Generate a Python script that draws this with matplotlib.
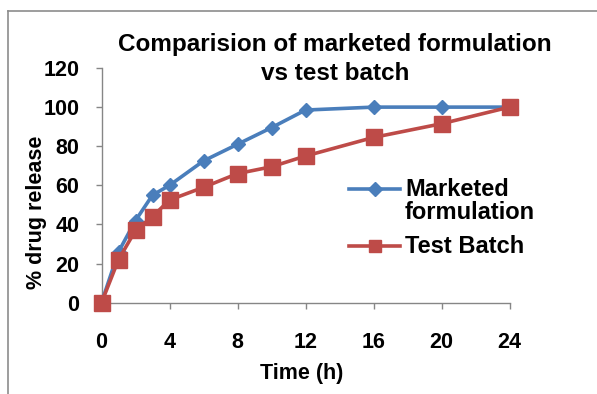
import matplotlib
matplotlib.use("Agg")
import matplotlib.pyplot as plt
from matplotlib.lines import Line2D

plt.rcParams['font.family'] = ['Liberation Sans', 'DejaVu Sans']
plt.rcParams['font.weight'] = 'bold'

# Dissolution data (% cumulative drug release vs time in hours)
time_h = [0, 1, 2, 3, 4, 6, 8, 10, 12, 16, 20, 24]
marketed = [0, 26, 42, 55, 60, 72.5, 81, 89.5, 98.5, 100, 100, 100]
test_batch = [0, 22, 37, 44, 52.5, 59, 66, 69.5, 75, 84.5, 91.5, 100]

x_ticks = [0, 4, 8, 12, 16, 20, 24]
y_ticks = [0, 20, 40, 60, 80, 100, 120]

title = "Comparision of marketed formulation\nvs test batch"
series_labels = ["Marketed\nformulation", "Test Batch"]

W, H = 597, 394
fig = plt.figure(figsize=(W / 100, H / 100), dpi=100)
fig.patch.set_facecolor("white")

def fx(px):
    return px / W

def fy(py):
    return 1 - py / H

# Chart-area border (top and left edges)
fig.add_artist(Line2D([fx(8), fx(597)], [fy(10.5), fy(10.5)], color="#8c8c8c", lw=1.2))
fig.add_artist(Line2D([fx(8), fx(8)], [fy(10.5), fy(394)], color="#8c8c8c", lw=1.2))

ax = fig.add_axes([fx(101.5), fy(302.7), fx(509.5) - fx(101.5), fy(68) - fy(302.7)])

blue = "#4a7ebb"
red = "#be4b48"
blue_style = dict(color=blue, lw=2.6, marker="D", markersize=7.5, markeredgecolor=blue)
red_style = dict(color=red, lw=2.6, marker="s", markersize=12, markeredgecolor=red)

ax.plot(time_h, marketed, clip_on=False, zorder=3, **blue_style)
ax.plot(time_h, test_batch, clip_on=False, zorder=4, **red_style)

ax.set_xlim(0, 24)
ax.set_ylim(0, 120)
ax.set_xticks(x_ticks)
ax.set_yticks(y_ticks)

for side in ("top", "right"):
    ax.spines[side].set_visible(False)
for side in ("left", "bottom"):
    ax.spines[side].set_color("#868686")
    ax.spines[side].set_linewidth(1.0)

ax.tick_params(axis="both", colors="#868686", length=4, width=1.0, direction="out",
               labelcolor="black", labelsize=15.5)
ax.tick_params(axis="x", pad=17)
ax.tick_params(axis="y", pad=12)
for lab in ax.get_xticklabels() + ax.get_yticklabels():
    lab.set_fontweight("bold")

# Title and axis titles
fig.text(fx(335), fy(59), title, ha="center", va="center", fontsize=17.5,
         fontweight="bold", linespacing=1.35)
fig.text(fx(302), fy(374), "Time (h)", ha="center", va="center", fontsize=15.5,
         fontweight="bold")
fig.text(fx(37), fy(212), "% drug release", ha="center", va="center", rotation=90,
         fontsize=15.5, fontweight="bold")

# Legend entries
legend_rows = [(blue_style, series_labels[0], 189), (red_style, series_labels[1], 246)]
for style, label, ypx in legend_rows:
    line = Line2D([fx(349), fx(400)], [fy(ypx), fy(ypx)], **{k: v for k, v in style.items() if k != "marker"})
    fig.add_artist(line)
    mk = Line2D([fx(374.5)], [fy(ypx)], linestyle="none", marker=style["marker"],
                markersize=style["markersize"] * (0.75 if style["marker"] == "s" else 0.9),
                color=style["color"])
    fig.add_artist(mk)
    fig.text(fx(405), fy(ypx - 11), label, ha="left", va="top", fontsize=17,
             fontweight="bold", linespacing=1.0)

fig.savefig("out.png", dpi=100, facecolor="white")
